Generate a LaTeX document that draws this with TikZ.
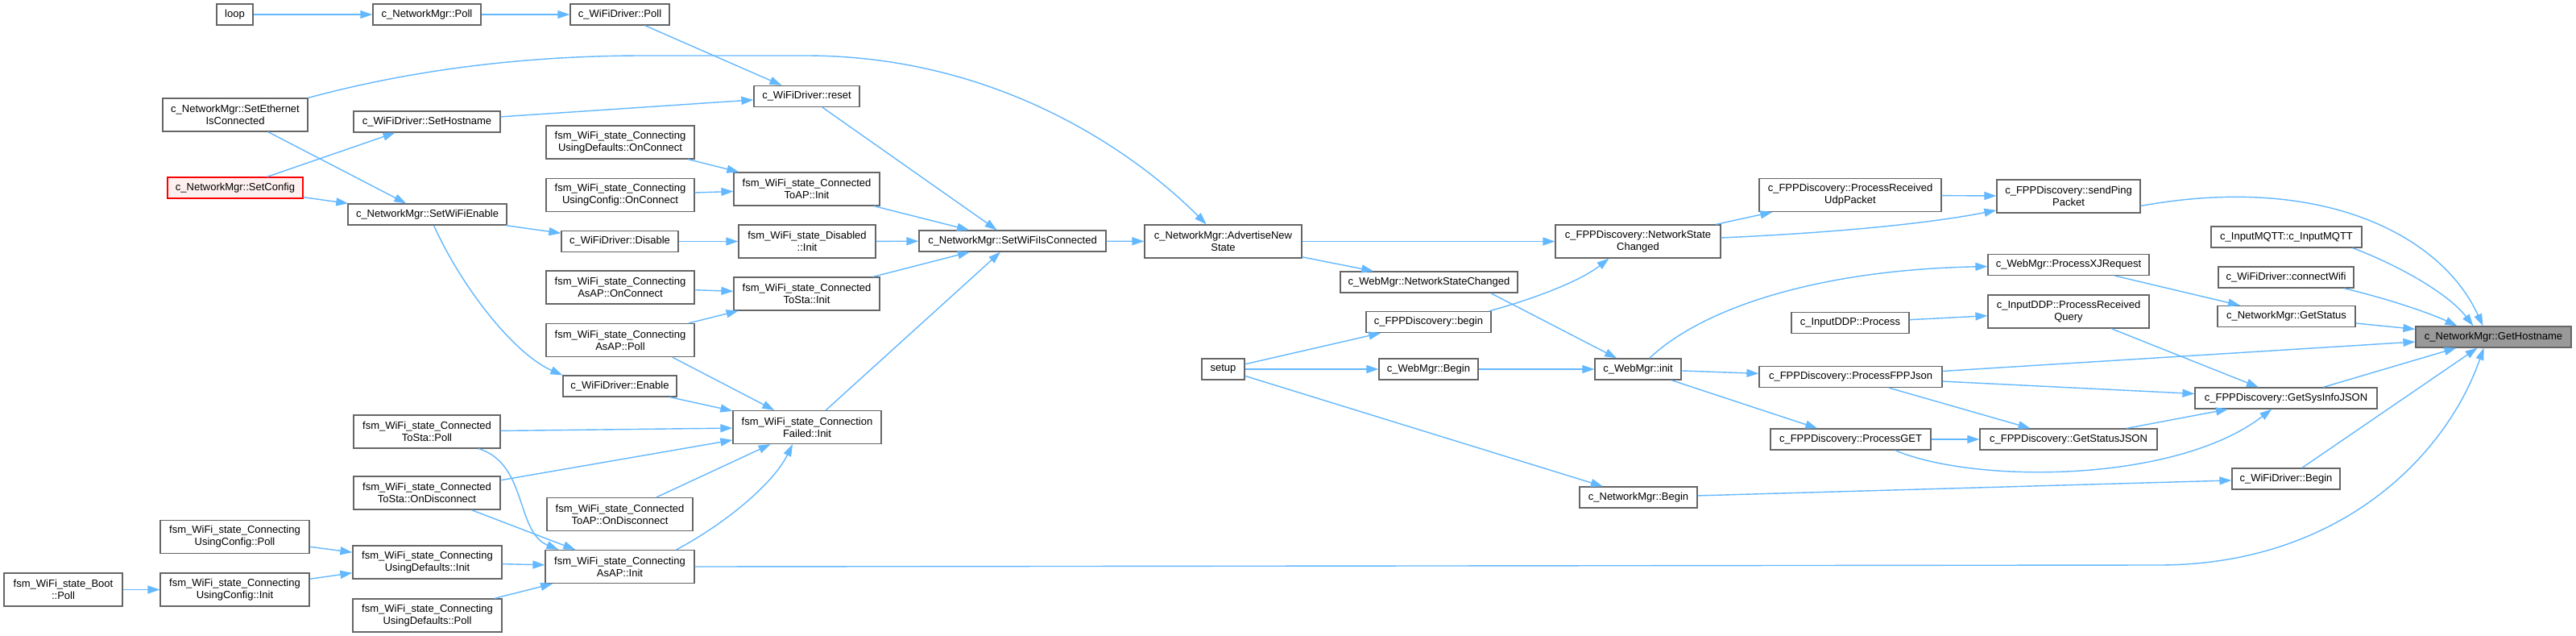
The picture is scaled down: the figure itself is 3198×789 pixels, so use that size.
\documentclass[tikz,border=0pt]{standalone}
\usepackage{fontspec}
\setmainfont{Liberation Sans}
\usetikzlibrary{arrows.meta}
\definecolor{EdgeBlue}{HTML}{63B8FF}
\definecolor{BoxGray}{HTML}{666666}
\definecolor{RootFill}{HTML}{999999}
\definecolor{ConfRed}{HTML}{FF0000}
\definecolor{ConfFill}{HTML}{FFF0F0}
\tikzset{
  fn/.style={draw=BoxGray, fill=white, line width=1.2pt, minimum width=#1,
    minimum height=26, inner sep=2pt, align=center},
  fn2/.style={fn=#1, minimum height=41},
  root/.style={fn=#1, fill=RootFill},
  warn/.style={fn=#1, draw=ConfRed, fill=ConfFill},
  call/.style={EdgeBlue, line width=1.4pt, -{Triangle[length=15pt,width=10pt]}},
}

\begin{document}
\begin{tikzpicture}[x=1pt,y=-1pt,font=\fontsize{13}{15}\selectfont]
  \path[use as bounding box, fill=white] (0,0) rectangle (3198,789);
  % left block: WiFi driver and state machine
  \node[fn=45]    (loop)    at (291.5,18)    {loop};
  \node[fn=134]   (npoll)   at (530,18)      {c\_NetworkMgr::Poll};
  \node[fn=123]   (wpoll)   at (769.5,18)    {c\_WiFiDriver::Poll};
  \node[fn2=180]  (seth)    at (292,142.5)   {c\_NetworkMgr::SetEthernet\\IsConnected};
  \node[fn=182]   (shost)   at (530,151)     {c\_WiFiDriver::SetHostname};
  \node[fn2=184]  (udocon)  at (770,176.5)   {fsm\_WiFi\_state\_Connecting\\UsingDefaults::OnConnect};
  \node[fn2=184]  (ucocon)  at (770,242)     {fsm\_WiFi\_state\_Connecting\\UsingConfig::OnConnect};
  \node[warn=168] (sconf)   at (292,233)     {c\_NetworkMgr::SetConfig};
  \node[fn=197]   (swen)    at (530.5,266)   {c\_NetworkMgr::SetWiFiEnable};
  \node[fn=145]   (wdis)    at (769.5,299.5) {c\_WiFiDriver::Disable};
  \node[fn2=184]  (aaocon)  at (770,356.5)   {fsm\_WiFi\_state\_Connecting\\AsAP::OnConnect};
  \node[fn2=184]  (aapoll)  at (770,422)     {fsm\_WiFi\_state\_Connecting\\AsAP::Poll};
  \node[fn=141]   (wen)     at (769.5,479)   {c\_WiFiDriver::Enable};
  \node[fn2=182]  (tspoll)  at (530,535.5)   {fsm\_WiFi\_state\_Connected\\ToSta::Poll};
  \node[fn2=182]  (tsodis)  at (530,611.5)   {fsm\_WiFi\_state\_Connected\\ToSta::OnDisconnect};
  \node[fn2=181]  (tapodis) at (769.5,638)   {fsm\_WiFi\_state\_Connected\\ToAP::OnDisconnect};
  \node[fn2=185]  (ucpoll)  at (291.5,666)   {fsm\_WiFi\_state\_Connecting\\UsingConfig::Poll};
  \node[fn2=185]  (udinit)  at (530.5,697.5) {fsm\_WiFi\_state\_Connecting\\UsingDefaults::Init};
  \node[fn2=185]  (aainit)  at (769.5,703)   {fsm\_WiFi\_state\_Connecting\\AsAP::Init};
  \node[fn2=147]  (boot)    at (78.5,731.5)  {fsm\_WiFi\_state\_Boot\\::Poll};
  \node[fn2=185]  (ucinit)  at (291.5,731.5) {fsm\_WiFi\_state\_Connecting\\UsingConfig::Init};
  \node[fn2=185]  (udpoll)  at (530.5,763.5) {fsm\_WiFi\_state\_Connecting\\UsingDefaults::Poll};
  \node[fn=131]   (reset)   at (1001.5,119.5){c\_WiFiDriver::reset};
  \node[fn2=181]  (taiinit) at (1001.5,234.5){fsm\_WiFi\_state\_Connected\\ToAP::Init};
  \node[fn2=170]  (dinit)   at (1002,299.5)  {fsm\_WiFi\_state\_Disabled\\::Init};
  \node[fn2=181]  (tsinit)  at (1001.5,364.5){fsm\_WiFi\_state\_Connected\\ToSta::Init};
  \node[fn2=184]  (cfinit)  at (1002,530)    {fsm\_WiFi\_state\_Connection\\Failed::Init};
  \node[fn=232]   (swic)    at (1257,299)    {c\_NetworkMgr::SetWiFiIsConnected};
  % middle and right: web, discovery, hostname
  \node[fn2=195]  (adv)     at (1518.5,299.5){c\_NetworkMgr::AdvertiseNew\\State};
  \node[fn=53]    (setup)   at (1518.5,458)  {setup};
  \node[fn=220]   (wnsc)    at (1774,350)    {c\_WebMgr::NetworkStateChanged};
  \node[fn=155]   (fbegin)  at (1773.5,399.5){c\_FPPDiscovery::begin};
  \node[fn=123]   (wbegin)  at (1773.5,458)  {c\_WebMgr::Begin};
  \node[fn2=205]  (fnsc)    at (2033.5,299.5){c\_FPPDiscovery::NetworkState\\Changed};
  \node[fn=107]   (winit)   at (2033.5,458)  {c\_WebMgr::init};
  \node[fn=146]   (nbegin)  at (2034,617)    {c\_NetworkMgr::Begin};
  \node[fn2=226]  (udp)     at (2297,242)    {c\_FPPDiscovery::ProcessReceived\\UdpPacket};
  \node[fn=146]   (ddpproc) at (2297,400.5)  {c\_InputDDP::Process};
  \node[fn=227]   (fppjson) at (2297.5,467.5){c\_FPPDiscovery::ProcessFPPJson};
  \node[fn=199]   (pget)    at (2297.5,545)  {c\_FPPDiscovery::ProcessGET};
  \node[fn2=178]  (ping)    at (2568,243.5)  {c\_FPPDiscovery::sendPing\\Packet};
  \node[fn=200]   (xj)      at (2568,328.5)  {c\_WebMgr::ProcessXJRequest};
  \node[fn2=200]  (ddpq)    at (2568,386.5)  {c\_InputDDP::ProcessReceived\\Query};
  \node[fn=220]   (gsj)     at (2568,545)    {c\_FPPDiscovery::GetStatusJSON};
  \node[fn=187]   (mqtt)    at (2838.5,294)  {c\_InputMQTT::c\_InputMQTT};
  \node[fn=168]   (cwifi)   at (2838,344)    {c\_WiFiDriver::connectWifi};
  \node[fn=171]   (gstat)   at (2838.5,392.5){c\_NetworkMgr::GetStatus};
  \node[fn=226]   (sysinfo) at (2838,494)    {c\_FPPDiscovery::GetSysInfoJSON};
  \node[fn=134]   (wbeg)    at (2838,594)    {c\_WiFiDriver::Begin};
  \node[root=193] (host)    at (3095.5,418)  {c\_NetworkMgr::GetHostname};

  \foreach \a/\b in {loop/npoll,npoll/wpoll,wpoll/reset,seth/swen,sconf/shost,sconf/swen,
      shost/reset,swen/wdis,udocon/taiinit,ucocon/taiinit,wdis/dinit,taiinit/swic,
      dinit/swic,tsinit/swic,reset/swic,cfinit/swic,swic/adv,aaocon/tsinit,aapoll/tsinit,
      wen/cfinit,tspoll/cfinit,tsodis/cfinit,tapodis/cfinit,tsodis/aainit,udinit/aainit,
      udpoll/aainit,ucpoll/udinit,ucinit/udinit,boot/ucinit,adv/fnsc,adv/wnsc,fnsc/udp,
      udp/ping,setup/fbegin,setup/wbegin,setup/nbegin,wbegin/winit,winit/fppjson,
      winit/pget,ddpproc/ddpq,nbegin/wbeg,xj/gstat,ddpq/sysinfo,fppjson/host,
      fppjson/sysinfo,fppjson/gsj,pget/gsj,gsj/sysinfo,sysinfo/host,wbeg/host,gstat/host}
    \draw[call] (\a) -- (\b);

  \draw[call] (seth.north east) .. controls (480,95) and (620,69) .. (800,69) -- (1000,69)
      .. controls (1250,69) and (1420,200) .. (adv);
  \draw[call] ([xshift=8]swen.south) .. controls (575,360) and (640,440) .. (wen.north west);
  \draw[call] ([xshift=64]tspoll.south) .. controls (655,575) and (640,660) .. ([xshift=17]aainit.north west);
  \draw[call] ([xshift=-23]aainit.north east) .. controls (900,650) and (960,600) .. ([xshift=-18]cfinit.south);
  \draw[call] ([xshift=-28]aapoll.south east) -- (cfinit);
  \draw[call] (aainit.east) -- (2680,701) .. controls (2900,701) and (3035,570) .. ([xshift=-12]host.south);
  \draw[call] ([xshift=-34]wnsc.south east) -- (winit);
  \draw[call] ([xshift=-3]fbegin.north east) .. controls (1900,372) and (1960,350) .. ([xshift=-36]fnsc.south);
  \draw[call] (fnsc) .. controls (2250,290) and (2380,280) .. (ping);
  \draw[call] (winit) .. controls (2110,385) and (2250,335) .. (xj);
  \draw[call] ([xshift=-45]pget.south east) .. controls (2450,600) and (2700,600) .. (sysinfo);
  \draw[call] ([yshift=-12]ping.east) .. controls (2880,215) and (3030,290) .. ([xshift=-13]host.north);
  \draw[call] ([xshift=-12]mqtt.south east) .. controls (2980,330) and (3040,365) .. ([xshift=-25]host.north);
  \draw[call] ([xshift=-13]cwifi.south east) .. controls (2970,372) and (3020,390) .. ([xshift=-45]host.north);
\end{tikzpicture}
\end{document}
